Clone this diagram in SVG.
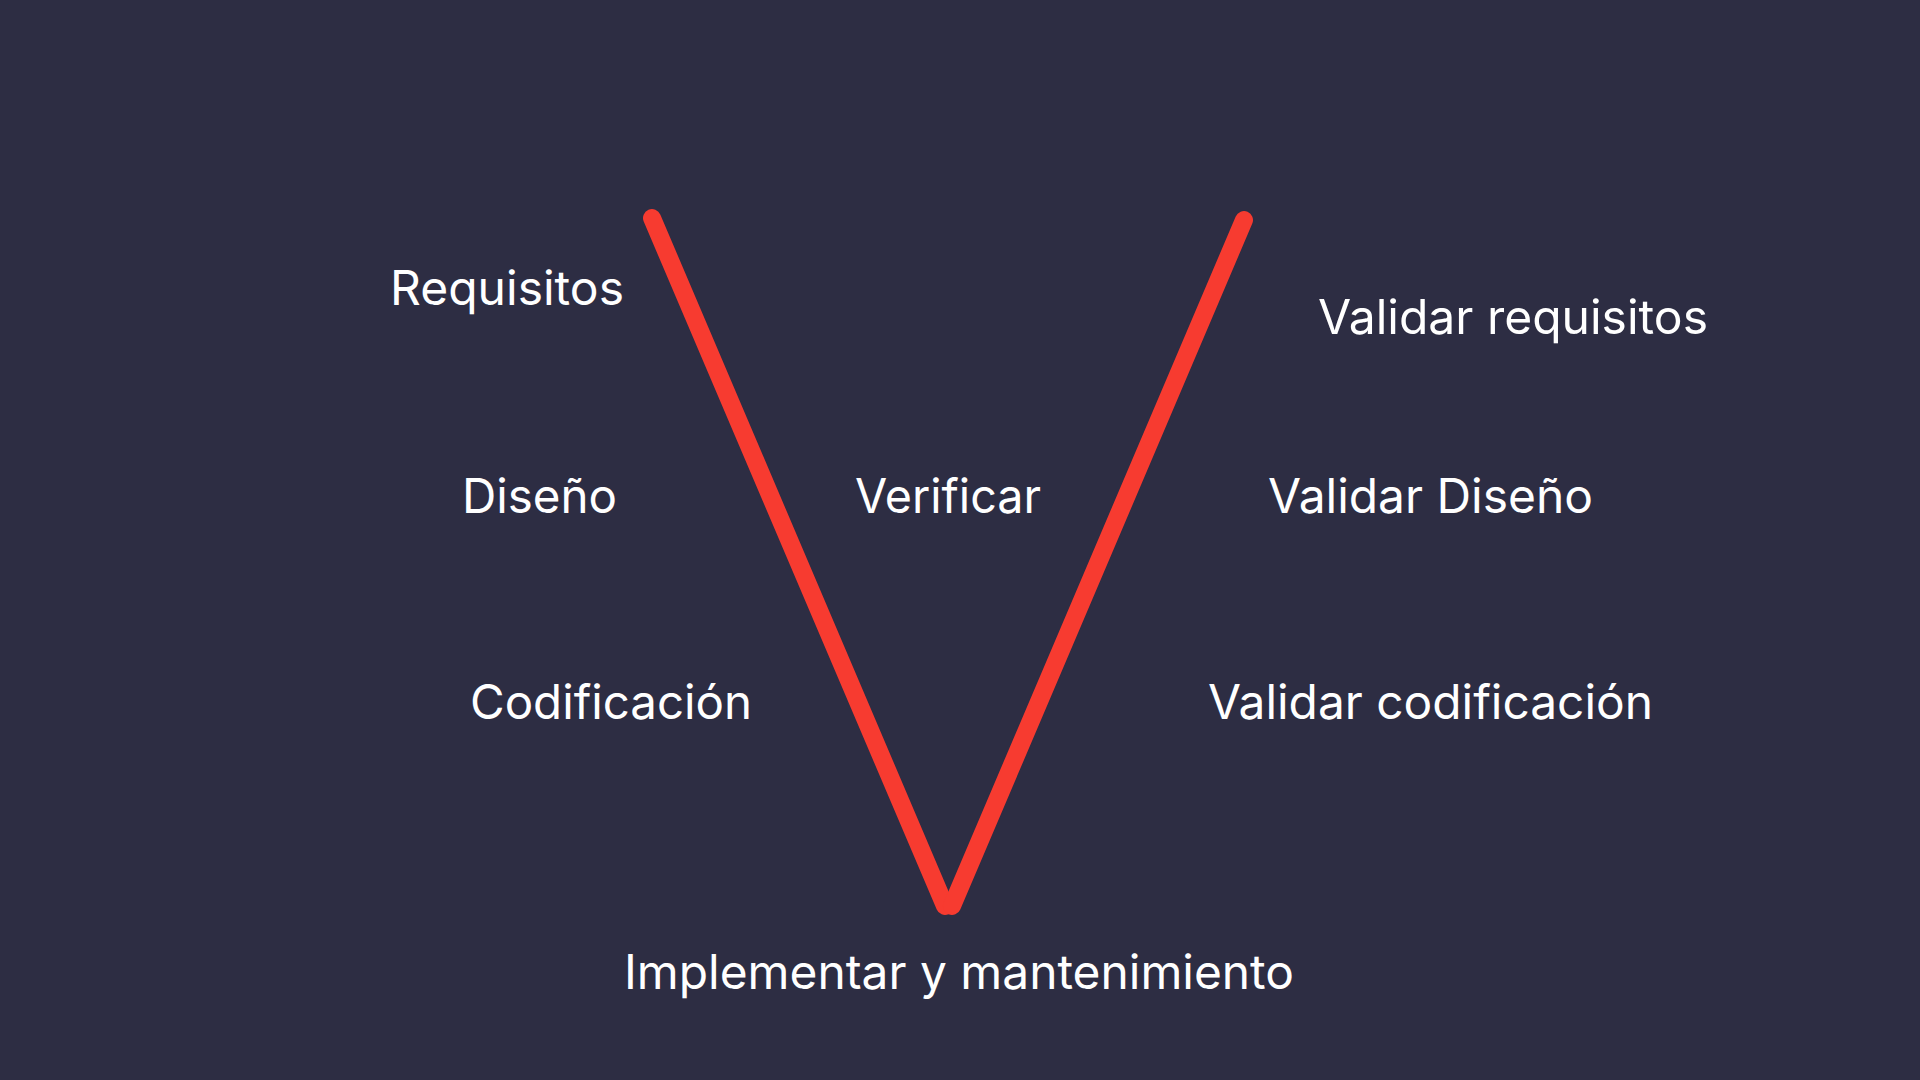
<svg xmlns="http://www.w3.org/2000/svg" width="1920" height="1080" viewBox="0 0 1920 1080">
<style>
.bg{fill:#2d2d43}
.v{stroke:#f73b30;stroke-width:18;stroke-linecap:round;fill:none}
.t{font-family:Inter,"Open Sans","Liberation Sans",sans-serif;font-size:48px;fill:#ffffff}
</style>
<rect class="bg" x="0" y="0" width="1920" height="1080"/>
<g id="connectors">
<line class="v" x1="652" y1="218" x2="945" y2="906"/>
<line class="v" x1="1244" y1="220" x2="952" y2="906"/>
</g>
<g id="requisitos"><text class="t" x="390" y="305" textLength="234" lengthAdjust="spacingAndGlyphs">Requisitos</text></g>
<g id="diseno"><text class="t" x="462" y="513" textLength="155" lengthAdjust="spacingAndGlyphs">Diseño</text></g>
<g id="codificacion"><text class="t" x="470" y="719" textLength="282" lengthAdjust="spacingAndGlyphs">Codificación</text></g>
<g id="verificar"><text class="t" x="855" y="513" textLength="186" lengthAdjust="spacingAndGlyphs">Verificar</text></g>
<g id="validar-requisitos"><text class="t" x="1318" y="334" textLength="390" lengthAdjust="spacingAndGlyphs">Validar requisitos</text></g>
<g id="validar-diseno"><text class="t" x="1268" y="513" textLength="325" lengthAdjust="spacingAndGlyphs">Validar Diseño</text></g>
<g id="validar-codificacion"><text class="t" x="1208" y="719" textLength="445" lengthAdjust="spacingAndGlyphs">Validar codificación</text></g>
<g id="implementar"><text class="t" x="624" y="989" textLength="670" lengthAdjust="spacingAndGlyphs">Implementar y mantenimiento</text></g>
</svg>
